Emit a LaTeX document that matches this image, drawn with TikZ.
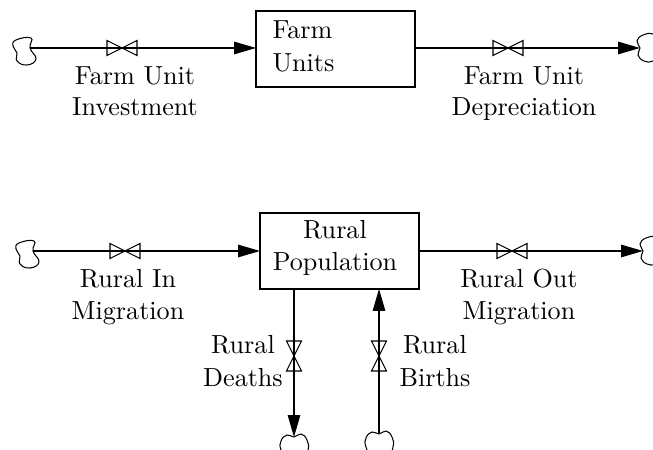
\documentclass[tikz,border=0pt]{standalone}
\usepackage{amsfonts, amsmath}
\usetikzlibrary{arrows.meta}

\tikzset{
  stock/.style={draw,minimum width=60.9pt,minimum height=29.1pt,inner sep=0pt,outer sep=0pt},
  lbl/.style={align=center,inner sep=0pt},
  flow/.style={-{Triangle[length=8.4pt,width=4.8pt]}},
  pics/valve/.style={code={
    \draw (-15,-7.5)--(15,7.5)--(15,-7.5)--(-15,7.5)--cycle;
  }},
  pics/cloudend/.style={code={
    \draw plot[smooth cycle,tension=.8] coordinates
      {(1,-10) (-14,-8) (-17,-2) (-13,5) (-13,13) (-3,17) (6,11) (0,0)};
  }},
  pics/cloudsink/.style={code={
    \draw plot[smooth cycle,tension=.8] coordinates
      {(0,0) (-3,-7) (3,-13) (13,-14) (24,-8) (24,6) (13,13) (4,13) (-2,7)};
  }},
}

\begin{document}
\begin{tikzpicture}[x=0.383pt,y=-0.383pt]
          \clip (0,0) rectangle (653,450);
          %stocks
          \node[stock] (farm) at (335.5,49) {};
          \node[stock] (rural) at (339.5,251) {};
          \node[lbl,anchor=west,align=left] (farmtxt) at (272,46) {Farm\\[0.6pt]Units};
          \node[lbl] (ruraltxt) at (335,248) {Rural\\[0.6pt]Population};
          %clouds
          \coordinate (fsrc) at (30,48);
          \coordinate (fsnk) at (640,48);
          \coordinate (rsrc) at (33,251);
          \coordinate (rsnk) at (643,251);
          \coordinate (dsnk) at (294,437);
          \coordinate (bsrc) at (379,434);
          \pic at (fsrc) {cloudend};
          \pic at (fsnk) {cloudsink};
          \pic at (rsrc) {cloudend};
          \pic at (rsnk) {cloudsink};
          \pic[rotate=-90] at (dsnk) {cloudsink};
          \pic[rotate=-90] at (bsrc) {cloudsink};
          %flows
          \draw[flow] (fsrc)--(farm.west |- fsrc);
          \draw[flow] (farm.east |- fsnk)--(fsnk);
          \draw[flow] (rsrc)--(rural.west |- rsrc);
          \draw[flow] (rural.east |- rsnk)--(rsnk);
          \draw[flow] (rural.south -| dsnk)--(dsnk);
          \draw[flow] (bsrc)--(rural.south -| bsrc);
          %valves
          \pic at (122,48) {valve};
          \pic at (508,48) {valve};
          \pic at (125,251) {valve};
          \pic at (512,251) {valve};
          \pic[rotate=90] at (294,356) {valve};
          \pic[rotate=90] at (379,356) {valve};
          %labels
          \node[lbl] (fuinv) at (135,91.5) {Farm Unit\\Investment};
          \node[lbl] (fudep) at (524,93.5) {Farm Unit\\Depreciation};
          \node[lbl] (rimig) at (128,297) {Rural In\\Migration};
          \node[lbl] (romig) at (519,297) {Rural Out\\Migration};
          \node[lbl] (rdeath) at (243,361.5) {Rural\\[0.6pt]Deaths};
          \node[lbl] (rbirth) at (435,361.5) {Rural\\[0.6pt]Births};
\end{tikzpicture}
\end{document}
